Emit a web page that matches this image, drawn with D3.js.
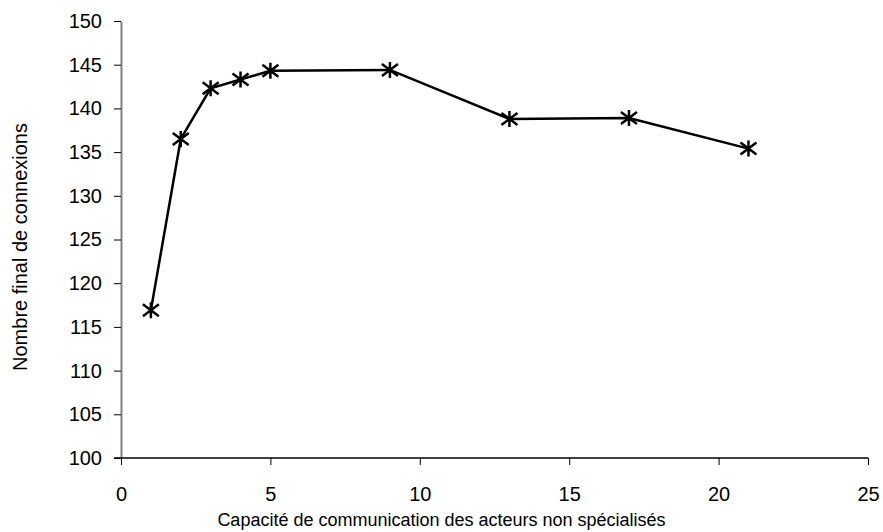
<!DOCTYPE html>
<html lang="fr">
<head>
  <meta charset="UTF-8">
  <title>Nombre final de connexions</title>
  <script src="https://d3js.org/d3.v7.min.js"></script>
  <style>
    body { margin: 0; background: #fff; }
    text { font-family: "Liberation Sans", Arial, sans-serif; fill: #000; }
    .tick text { font-size: 20px; }
    .axis-title { font-size: 18px; }
    .y-title { font-size: 20px; }
  </style>
</head>
<body>
  <svg width="883" height="532"></svg>

  <script>
    // data
    const capacite = [1, 2, 3, 4, 5, 9, 13, 17, 21];
    const connexions = [116.9, 136.5, 142.3, 143.3, 144.3, 144.4, 138.8, 138.9, 135.4];
    const xTicks = [0, 5, 10, 15, 20, 25];
    const yTicks = [100, 105, 110, 115, 120, 125, 130, 135, 140, 145, 150];

    const data = capacite.map((c, i) => ({x: c, y: connexions[i]}));

    const margin = {top: 21, right: 15, bottom: 74, left: 121},
          width = 868 - margin.left,
          height = 458 - margin.top;

    const svg = d3.select("svg")
      .append("g")
      .attr("transform", `translate(${margin.left},${margin.top})`);

    const x = d3.scaleLinear().domain([0, 25]).range([0, width]);
    const y = d3.scaleLinear().domain([100, 150]).range([height, 0]);

    // y axis
    const yAxis = svg.append("g")
      .call(d3.axisLeft(y).tickValues(yTicks).tickSize(7).tickPadding(12).tickSizeOuter(0));
    yAxis.select(".domain").attr("stroke", "#808080").attr("stroke-width", 2);
    yAxis.selectAll(".tick line").attr("stroke", "#000");

    // x axis
    const xAxis = svg.append("g")
      .attr("transform", `translate(0,${height})`)
      .call(d3.axisBottom(x).tickValues(xTicks).tickSize(7).tickPadding(22).tickSizeOuter(0));
    xAxis.select(".domain").attr("stroke", "#000").attr("stroke-width", 1.5)
      .attr("d", `M-7,0H${width}`);

    // axis titles
    svg.append("text")
      .attr("class", "axis-title")
      .attr("x", width / 2 - 53)
      .attr("y", height + 68)
      .attr("text-anchor", "middle")
      .text("Capacité de communication des acteurs non spécialisés");

    svg.append("text")
      .attr("class", "axis-title y-title")
      .attr("transform", `translate(${-94},${226}) rotate(-90)`)
      .attr("text-anchor", "middle")
      .text("Nombre final de connexions");

    // line
    const line = d3.line().x(d => x(d.x)).y(d => y(d.y));
    svg.append("path")
      .datum(data)
      .attr("fill", "none")
      .attr("stroke", "#000")
      .attr("stroke-width", 2.5)
      .attr("d", line);

    // asterisk markers
    const s = 8;
    svg.selectAll(".marker")
      .data(data)
      .join("path")
      .attr("class", "marker")
      .attr("transform", d => `translate(${x(d.x)},${y(d.y)})`)
      .attr("d", `M0,${-s}V${s}M${-s},${-s * 0.75}L${s},${s * 0.75}M${-s},${s * 0.75}L${s},${-s * 0.75}`)
      .attr("stroke", "#000")
      .attr("stroke-width", 2.5)
      .attr("fill", "none");
  </script>
</body>
</html>
